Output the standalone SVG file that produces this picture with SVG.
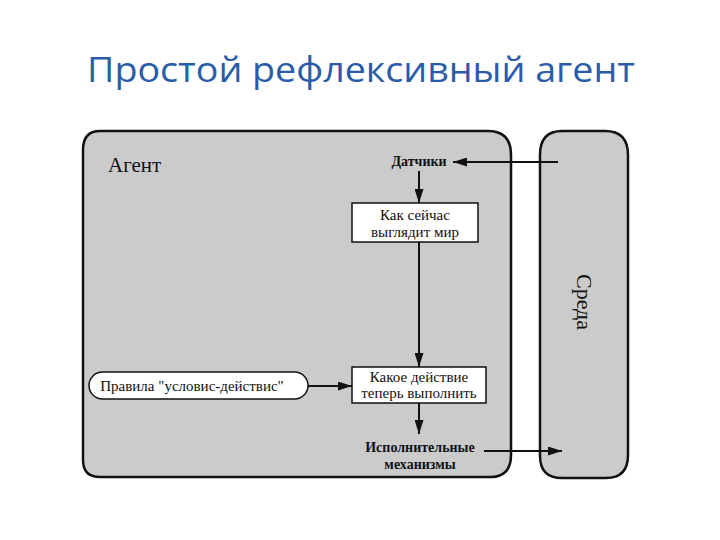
<svg xmlns="http://www.w3.org/2000/svg" width="720" height="540" viewBox="0 0 720 540">
<defs>
<style>
.panel{fill:#cbcbcb;stroke:#111;stroke-width:2.5}
.box{fill:#fff;stroke:#111;stroke-width:1.5}
.t{font-family:"Liberation Serif","DejaVu Serif",serif;fill:#111}
.b{font-weight:bold}
.conn{stroke:#111;stroke-width:2;fill:none}
</style>
<marker id="ah" viewBox="0 0 14 9" refX="14" refY="4.5" markerWidth="14" markerHeight="9" markerUnits="userSpaceOnUse" orient="auto">
<path d="M0 0 L14 4.5 L0 9 Z" fill="#111"/>
</marker>
</defs>
<rect width="720" height="540" fill="#fff"/>
<text x="361" y="82" text-anchor="middle" font-family="'Open Sans','Noto Sans',sans-serif" font-size="34" fill="#2a5ca8" textLength="548" lengthAdjust="spacingAndGlyphs">Простой рефлексивный агент</text>
<g id="agent">
<path class="panel" d="M100 131 L488 131 Q511 131 511 155 L511 455 Q511 477 490 477 L100 477 Q83 477 83 460 L83 150 Q83 131 100 131 Z"/>
<text class="t" x="108" y="172" font-size="21">Агент</text>
</g>
<g id="environment">
<path class="panel" d="M562 131 L605 131 Q628 131 628 155 L628 455 Q628 478 606 478 L562 478 Q540 478 540 456 L540 155 Q540 131 562 131 Z"/>
<text class="t" font-size="22" transform="translate(577 302) rotate(90)" text-anchor="middle">Среда</text>
</g>
<g id="sensors">
<text class="t b" x="419" y="166" font-size="14" text-anchor="middle">Датчики</text>
</g>
<g id="world">
<rect class="box" x="352" y="203" width="126" height="39"/>
<text class="t" x="415" y="220" font-size="15" text-anchor="middle">Как сейчас</text>
<text class="t" x="415" y="237" font-size="15" text-anchor="middle">выглядит мир</text>
</g>
<g id="action">
<rect class="box" x="352" y="367" width="134" height="36"/>
<text class="t" x="419" y="382" font-size="15" text-anchor="middle">Какое действие</text>
<text class="t" x="419" y="398" font-size="15" text-anchor="middle">теперь выполнить</text>
</g>
<g id="rules">
<rect class="box" x="89" y="372" width="219" height="27" rx="13.5"/>
<text class="t" x="192" y="391" font-size="15" text-anchor="middle">Правила "условис-действис"</text>
</g>
<g id="effectors">
<text class="t b" x="420" y="452" font-size="14" text-anchor="middle">Исполнительные</text>
<text class="t b" x="420" y="469" font-size="14" text-anchor="middle">механизмы</text>
</g>
<g id="connectors">
<line class="conn" x1="558" y1="162" x2="453" y2="162" marker-end="url(#ah)"/>
<line class="conn" x1="419" y1="171" x2="419" y2="203" marker-end="url(#ah)"/>
<line class="conn" x1="419" y1="242" x2="419" y2="367" marker-end="url(#ah)"/>
<line class="conn" x1="308" y1="386" x2="352" y2="386" marker-end="url(#ah)"/>
<line class="conn" x1="419" y1="403" x2="419" y2="434" marker-end="url(#ah)"/>
<line class="conn" x1="484" y1="451" x2="562" y2="451" marker-end="url(#ah)"/>
</g>
</svg>
